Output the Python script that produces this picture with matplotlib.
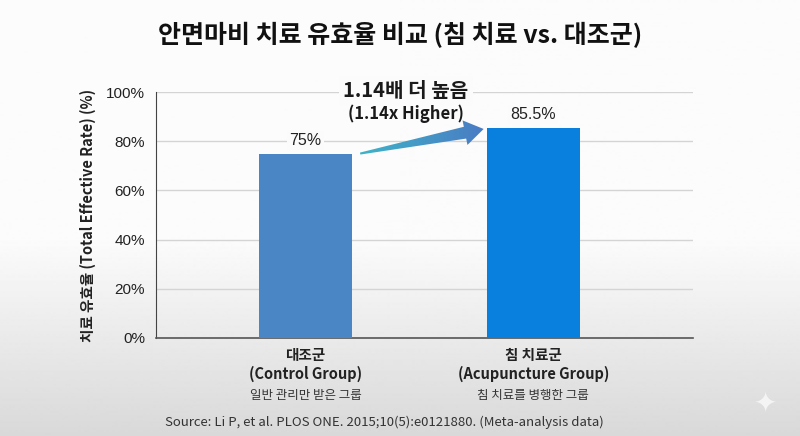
import numpy as np
import matplotlib
matplotlib.use('Agg')
import matplotlib.pyplot as plt
from matplotlib.patches import Polygon
from matplotlib.colors import LinearSegmentedColormap

plt.rcParams['font.family'] = ['Noto Sans CJK KR', 'DejaVu Sans']

# data
groups_kr = ['대조군', '침 치료군']
groups_en = ['(Control Group)', '(Acupuncture Group)']
groups_desc = ['일반 관리만 받은 그룹', '침 치료를 병행한 그룹']
rates = [75, 85.5]
rate_labels = ['75%', '85.5%']
ratio_text = '1.14배 더 높음'
ratio_text_en = '(1.14x Higher)'
yticks = [0, 20, 40, 60, 80, 100]

bar_colors = ['#4a86c6', '#0a80de']
bar_w = 0.41

fig = plt.figure(figsize=(8, 4.36), dpi=100)

# soft gray background gradient
bg = fig.add_axes([0, 0, 1, 1], zorder=-10)
grad = np.concatenate([np.full(240, 0.985), np.linspace(0.985, 0.85, 196)])
bg.imshow(grad[:, None], cmap='gray', vmin=0, vmax=1, aspect='auto',
          extent=[0, 1, 0, 1])
bg.axis('off')

ax = fig.add_axes([0.195, 0.2248, 0.671, 0.564])
ax.set_facecolor('none')
x = np.arange(len(rates))
ax.bar(x, rates, width=bar_w, color=bar_colors, zorder=3)
ax.set_xlim(-0.656, 1.70)
ax.set_ylim(0, 100)
ax.set_yticks(yticks)
ax.set_yticklabels([f'{t}%' for t in yticks], family='Liberation Sans',
                   fontsize=11, color='#222222')
ax.set_xticks([])
ax.tick_params(axis='y', length=0, pad=8)
ax.grid(axis='y', color='#d4d4d4', linewidth=1, zorder=0)
for s in ['top', 'right']:
    ax.spines[s].set_visible(False)
ax.spines['left'].set_color('#444444')
ax.spines['left'].set_linewidth(0.8)
ax.spines['bottom'].set_color('#555555')
ax.spines['bottom'].set_linewidth(1.2)

ax.set_ylabel('치료 유효율 (Total Effective Rate) (%)', fontsize=10.5,
              fontweight='bold', color='#222222', labelpad=7)

# value labels
for xi, v, lab in zip(x, rates, rate_labels):
    ax.text(xi, v + 5.3, lab, ha='center', va='center', fontsize=11.5,
            family='Liberation Sans', color='#222222', zorder=2,
            bbox=dict(facecolor='#fbfbfb', edgecolor='none', pad=1.5))

# group labels under the bars
for xi, kr, en, desc in zip(x, groups_kr, groups_en, groups_desc):
    ax.text(xi, -7, kr, ha='center', va='center', fontsize=10.5,
            fontweight='bold', color='#222222')
    ax.text(xi, -14.5, en, ha='center', va='center', fontsize=10.5,
            fontweight='bold', color='#222222')
    ax.text(xi, -23.3, desc, ha='center', va='center', fontsize=9,
            color='#333333')

# tapered gradient arrow between bars
tail = ax.transData.transform((x[0] + bar_w / 2 + 0.035, rates[0]))
tip = ax.transData.transform((x[1] - bar_w / 2 - 0.013, rates[1] - 0.5))
d = (tip - tail) / np.linalg.norm(tip - tail)
n = np.array([-d[1], d[0]])
base = tip - d * 19
pts_px = np.array([tail + n * 1, base + n * 6, base + n * 12.5, tip,
                   base - n * 12.5, base - n * 6, tail - n * 1])
pts = ax.transData.inverted().transform(pts_px)
arrow = Polygon(pts, closed=True, facecolor='none', edgecolor='none')
ax.add_patch(arrow)
cmap = LinearSegmentedColormap.from_list('arr', ['#3fb3c8', '#4a7cc4'])
img = ax.imshow(np.linspace(0, 1, 100)[None, :], cmap=cmap, aspect='auto',
                extent=[pts[:, 0].min(), pts[:, 0].max(),
                        pts[:, 1].min(), pts[:, 1].max()], zorder=4)
img.set_clip_path(arrow)
ax.set_xlim(-0.656, 1.70)
ax.set_ylim(0, 100)

mid = (x[0] + x[1]) / 2 - 0.06
ax.text(mid, 100.5, ratio_text, ha='center', va='center', fontsize=14.5,
        fontweight='bold', color='#1a1a1a', zorder=6,
        bbox=dict(facecolor='#fbfbfb', edgecolor='none', pad=3))
ax.text(mid, 91, ratio_text_en, ha='center', va='center', fontsize=12,
        fontweight='bold', color='#1a1a1a', zorder=6)

fig.text(0.5, 0.92, '안면마비 치료 유효율 비교 (침 치료 vs. 대조군)',
         ha='center', va='center', fontsize=18, fontweight='heavy',
         color='#111111')
fig.text(0.48, 0.032,
         'Source: Li P, et al. PLOS ONE. 2015;10(5):e0121880. (Meta-analysis data)',
         ha='center', va='center', fontsize=9.5, color='#333333')
fig.text(0.957, 0.075, '✦', ha='center', va='center', fontsize=20,
         color='#f4f4f4', family='DejaVu Sans')

fig.savefig('out.png', dpi=100)
